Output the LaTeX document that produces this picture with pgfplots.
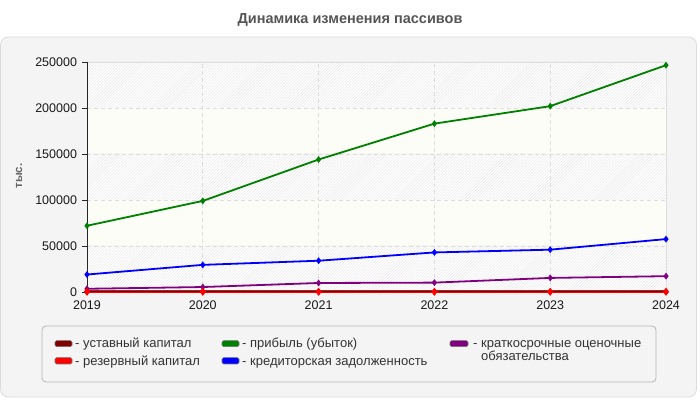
\documentclass[border=0pt]{standalone}
\usepackage{fontspec}
\setmainfont{Liberation Sans}
\usepackage{pgfplots}
\pgfplotsset{compat=1.18}
\usetikzlibrary{patterns}

\definecolor{panelbg}{HTML}{F4F4F4}
\definecolor{panelborder}{HTML}{DCDCDC}
\definecolor{titlegray}{HTML}{555555}
\definecolor{gridc}{HTML}{DDDDDD}
\definecolor{ivory}{HTML}{FCFDF6}
\definecolor{hatch}{HTML}{E6E6E6}
\definecolor{legborder}{HTML}{B4B4B4}
\definecolor{cUst}{HTML}{800000}
\definecolor{cRes}{HTML}{FF0000}
\definecolor{cPrib}{HTML}{008000}
\definecolor{cKred}{HTML}{0000FF}
\definecolor{cKrat}{HTML}{800080}

\begin{document}
\begin{tikzpicture}
% canvas and panel
\path (0bp,0bp) rectangle (700bp,400bp);
\draw[fill=panelbg, draw=panelborder, rounded corners=8bp, line width=0.8bp]
  (0.5bp,3bp) rectangle (696.5bp,363bp);
\node[font=\bfseries\fontsize{14.5bp}{16bp}\selectfont, text=titlegray]
  at (350bp,380bp) {Динамика изменения пассивов};
\node[rotate=90, font=\bfseries\fontsize{11.5bp}{12bp}\selectfont, text=titlegray!90]
  at (19bp,224bp) {тыс.};

\begin{axis}[
  at={(87bp,108bp)}, anchor=south west,
  scale only axis, width=579bp, height=230bp,
  xmin=2019, xmax=2024, ymin=0, ymax=250000,
  xtick={2019,2020,2021,2022,2023,2024},
  ytick={0,50000,100000,150000,200000,250000},
  scaled y ticks=false,
  axis on top, clip=false,
  axis x line*=bottom, axis y line*=left,
  axis line style={black!85, line width=1bp},
  tick align=outside, major tick length=5bp,
  xtick style={draw=none},
  ytick style={black!85, line width=0.8bp},
  tick label style={font=\fontsize{12.5bp}{14bp}\selectfont, text=black!90},
  yticklabel style={xshift=-1.5bp},
  every axis plot/.append style={line width=1.8bp, mark size=2bp},
  /pgf/number format/fixed,
  /pgf/number format/precision=0,
  /pgf/number format/1000 sep={},
  /pgf/number format/assume math mode=true,
]
% background bands
\fill[white] (axis cs:2019,200000) rectangle (axis cs:2024,250000);
\fill[pattern=north east lines, pattern color=hatch] (axis cs:2019,200000) rectangle (axis cs:2024,250000);
\fill[ivory] (axis cs:2019,150000) rectangle (axis cs:2024,200000);
\fill[white] (axis cs:2019,100000) rectangle (axis cs:2024,150000);
\fill[pattern=north east lines, pattern color=hatch] (axis cs:2019,100000) rectangle (axis cs:2024,150000);
\fill[ivory] (axis cs:2019,50000) rectangle (axis cs:2024,100000);
\fill[white] (axis cs:2019,0) rectangle (axis cs:2024,50000);
\fill[pattern=north east lines, pattern color=hatch] (axis cs:2019,0) rectangle (axis cs:2024,50000);
% grid
\pgfplotsinvokeforeach{50000,100000,150000,200000}{
  \draw[gridc, line width=0.8bp, dash pattern=on 4bp off 3bp] (axis cs:2019,#1) -- (axis cs:2024,#1);
}
\pgfplotsinvokeforeach{2020,2021,2022,2023}{
  \draw[gridc, line width=0.8bp, dash pattern=on 4bp off 3bp] (axis cs:#1,0) -- (axis cs:#1,250000);
}
\draw[gridc, line width=0.8bp] (axis cs:2019,250000) -- (axis cs:2024,250000) -- (axis cs:2024,0);

% data
\addplot[cPrib, mark=diamond*] coordinates {
  (2019,72000) (2020,99000) (2021,144000) (2022,183000) (2023,202000) (2024,246500)};
\addplot[cKred, mark=diamond*] coordinates {
  (2019,19000) (2020,29500) (2021,34000) (2022,43000) (2023,46000) (2024,57500)};
\addplot[cKrat, mark=diamond*] coordinates {
  (2019,3500) (2020,5400) (2021,9800) (2022,10200) (2023,15300) (2024,17200)};
\addplot[cUst, mark=diamond*] coordinates {
  (2019,100) (2020,100) (2021,100) (2022,100) (2023,100) (2024,100)};
\addplot[cRes, mark=diamond*, line width=2.5bp] coordinates {
  (2019,300) (2020,300) (2021,300) (2022,300) (2023,300) (2024,300)};
\end{axis}

% legend
\draw[fill=panelbg, draw=legborder, rounded corners=4bp, line width=0.8bp]
  (42bp,18bp) rectangle (656bp,74bp);
\begin{scope}[every node/.style={anchor=base west, inner sep=0pt,
    font=\fontsize{13bp}{14bp}\selectfont, text=black!80},
    sw/.style={draw=black!55, line width=0.6bp, rounded corners=1.5bp}]
  \draw[sw, fill=cUst]  (55bp,53.3bp) rectangle (72bp,59.3bp);
  \node at (75bp,52bp) {- уставный капитал};
  \draw[sw, fill=cRes]  (55bp,36bp) rectangle (72bp,42.3bp);
  \node at (75bp,35bp) {- резервный капитал};
  \draw[sw, fill=cPrib] (222bp,53.3bp) rectangle (239bp,59.3bp);
  \node at (242bp,52bp) {- прибыль (убыток)};
  \draw[sw, fill=cKred] (222bp,36bp) rectangle (239bp,42.3bp);
  \node at (242bp,35bp) {- кредиторская задолженность};
  \draw[sw, fill=cKrat] (450bp,53.3bp) rectangle (468bp,59.3bp);
  \node at (473bp,52bp) {- краткосрочные оценочные};
  \node at (473bp,39.5bp) {\hphantom{- }обязательства};
\end{scope}
\end{tikzpicture}
\end{document}
